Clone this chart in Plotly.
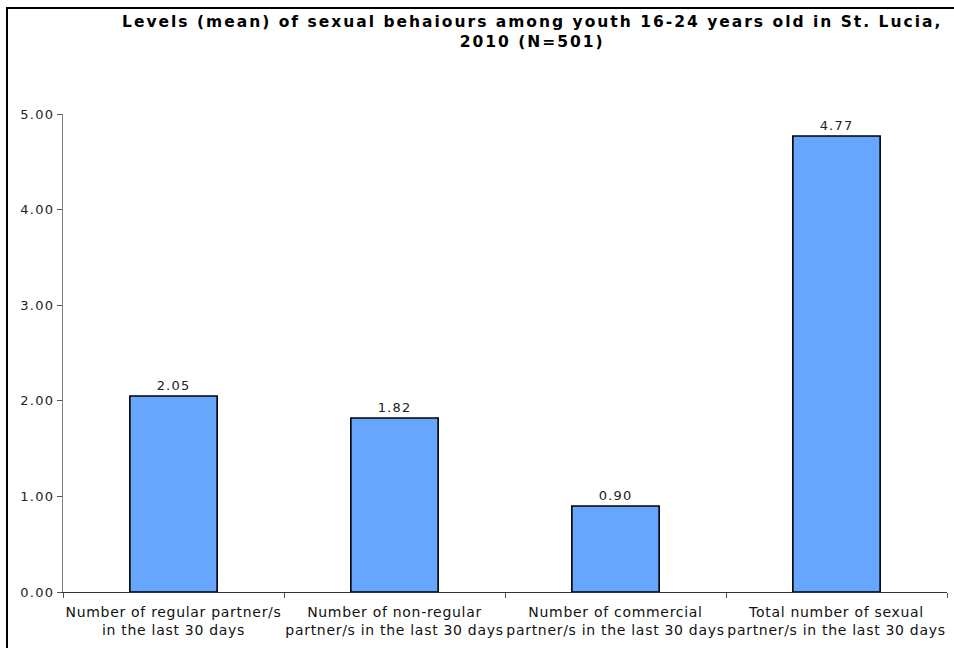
import plotly.graph_objects as go

# Mean number of sexual partners reported by youth aged 16-24, St. Lucia 2010
categories = [
    "Number of regular partner/s<br>in the last 30 days",
    "Number of non-regular<br>partner/s in the last 30 days",
    "Number of commercial<br>partner/s in the last 30 days",
    "Total number of sexual<br>partner/s in the last 30 days",
]
means = [2.05, 1.82, 0.90, 4.77]
y_ticks = [0, 1, 2, 3, 4, 5]
y_tick_labels = ["0.00", "1.00", "2.00", "3.00", "4.00", "5.00"]

title_lines = [
    "Levels (mean) of sexual behaiours among youth 16-24 years old in St. Lucia,",
    "2010 (N=501)",
]


def spaced(s, px):
    return f'<span style="letter-spacing:{px}px">{s}</span>'


W, H = 954, 648
ML, MR, MT, MB = 63, 7, 114, 56
pw = W - ML - MR
ph = H - MT - MB

fig = go.Figure(
    go.Bar(
        x=[spaced(c, 0.7) for c in categories],
        y=means,
        marker=dict(color="#66A6FF", line=dict(color="#000000", width=1.6)),
        text=[spaced(f"{v:.2f}", 1.2) for v in means],
        textposition="outside",
        textfont=dict(family="DejaVu Sans, Verdana, sans-serif", size=13, color="#222222"),
        cliponaxis=False,
        width=0.395,
    )
)

# outer chart frame (runs off the right and bottom edges)
fig.add_shape(
    type="rect", xref="paper", yref="paper",
    x0=(7 - ML) / pw, x1=(W + 20 - ML) / pw,
    y0=-(MB + 20) / ph, y1=1 + (MT - 8) / ph,
    line=dict(color="#000000", width=2), fillcolor="rgba(0,0,0,0)", layer="below",
)

# chart title
fig.add_annotation(
    text="<br>".join(spaced(t, 2.0) for t in title_lines),
    xref="paper", yref="paper",
    x=(532 - ML) / pw, xanchor="center",
    y=1 + (MT - 11) / ph, yanchor="top",
    showarrow=False, align="center",
    font=dict(family="DejaVu Sans, Verdana, sans-serif", size=15.5, color="#000000", weight="bold"),
)

fig.update_layout(
    width=W, height=H,
    margin=dict(l=ML, r=MR, t=MT, b=MB, pad=0, autoexpand=False),
    paper_bgcolor="#FFFFFF", plot_bgcolor="#FFFFFF",
    showlegend=False,
    bargap=0.6,
    xaxis=dict(
        showline=True, linecolor="#333333", linewidth=1,
        ticks="outside", ticklen=5, tickcolor="#555555",
        tickson="boundaries",
        tickangle=0,
        automargin=False,
        ticklabelstandoff=7,
        tickfont=dict(family="DejaVu Sans, Verdana, sans-serif", size=14, color="#111111"),
        showgrid=False, zeroline=False,
    ),
    yaxis=dict(
        range=[0, 5],
        automargin=False,
        tickvals=y_ticks, ticktext=[spaced(t, 1.3) for t in y_tick_labels],
        showline=True, linecolor="#808080", linewidth=1,
        ticks="outside", ticklen=5, tickcolor="#555555",
        tickfont=dict(family="DejaVu Sans, Verdana, sans-serif", size=13, color="#222222"),
        showgrid=False, zeroline=False,
    ),
)

fig.write_html("out.html")
